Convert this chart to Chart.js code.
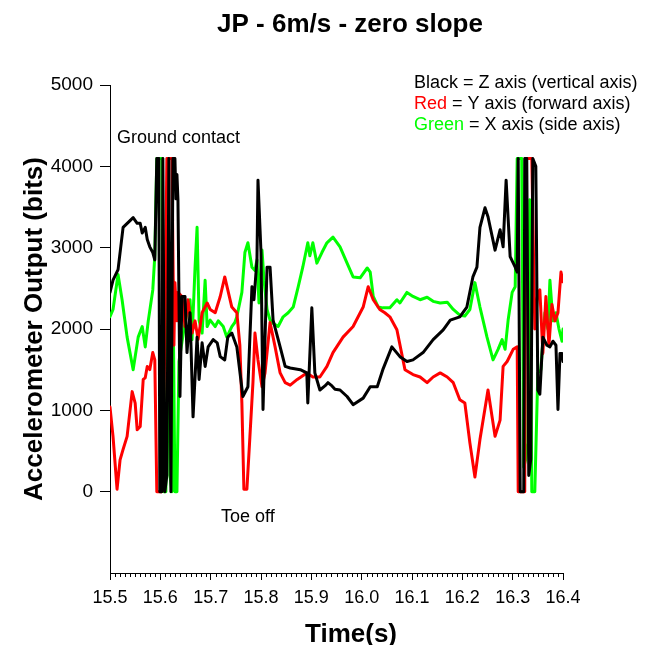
<!DOCTYPE html>
<html>
<head>
<meta charset="utf-8">
<script src="https://cdn.jsdelivr.net/npm/chart.js@4/dist/chart.umd.min.js"></script>
<style>
  html, body { margin: 0; padding: 0; background: #fff; }
  #wrap { width: 646px; height: 645px; }
</style>
</head>
<body>
<div id="wrap"><canvas id="chart" width="646" height="645"></canvas></div>
<script>
// Z axis (black)
const zTime = [15.500,15.506,15.516,15.526,15.546,15.554,15.560,15.564,15.570,15.574,
  15.579,15.585,15.589,15.593,15.597,15.599,15.603,15.605,15.609,15.613,
  15.617,15.621,15.625,15.629,15.631,15.633,15.635,15.639,15.643,15.649,
  15.653,15.659,15.665,15.673,15.677,15.683,15.689,15.695,15.705,15.713,
  15.719,15.728,15.734,15.742,15.752,15.764,15.774,15.782,15.786,15.792,
  15.794,15.800,15.804,15.812,15.818,15.824,15.838,15.848,15.858,15.878,
  15.891,15.893,15.901,15.907,15.917,15.927,15.933,15.941,15.947,15.957,
  15.971,15.983,16.003,16.017,16.031,16.042,16.060,16.076,16.090,16.102,
  16.122,16.142,16.162,16.176,16.195,16.209,16.221,16.229,16.235,16.245,
  16.251,16.265,16.275,16.281,16.287,16.295,16.305,16.309,16.311,16.315,
  16.322,16.324,16.328,16.332,16.336,16.340,16.346,16.350,16.354,16.360,
  16.368,16.374,16.380,16.386,16.390,16.394,16.398,16.400];
const zValues = [2450,2600,2730,3250,3370,3300,3300,3180,3250,3100,
  3010,2940,2850,4095,4095,0,0,4095,0,200,
  4095,0,4095,4095,3600,3900,3590,1170,2400,2400,
  1710,2200,920,1900,1380,1830,1540,1780,1870,1830,
  1660,1620,1900,1950,1780,1170,1290,2520,2360,2850,
  3830,2940,1010,2760,2760,2110,1780,1540,1520,1500,
  1460,1090,2260,1460,1250,1300,1340,1300,1260,1250,
  1170,1070,1150,1290,1290,1500,1780,1660,1600,1620,
  1710,1870,1990,2110,2150,2270,2640,2760,3250,3490,
  3380,2970,3220,3010,3830,2890,2760,2700,4095,0,
  0,4095,4095,200,400,4095,4000,1250,1200,1900,
  1800,1780,1850,1800,1010,1700,1700,1600];

// Y axis (red)
const yTime = [15.500,15.506,15.514,15.520,15.526,15.534,15.544,15.550,15.554,15.560,
  15.566,15.570,15.574,15.579,15.585,15.589,15.593,15.603,15.609,15.613,
  15.623,15.627,15.629,15.633,15.635,15.643,15.649,15.655,15.663,15.669,
  15.675,15.683,15.693,15.699,15.709,15.719,15.728,15.734,15.742,15.752,
  15.758,15.762,15.766,15.772,15.778,15.784,15.788,15.794,15.802,15.808,
  15.818,15.828,15.838,15.848,15.858,15.872,15.891,15.903,15.917,15.931,
  15.943,15.963,15.983,16.003,16.013,16.023,16.036,16.046,16.056,16.070,
  16.086,16.102,16.116,16.130,16.142,16.156,16.170,16.182,16.195,16.205,
  16.215,16.225,16.235,16.251,16.265,16.275,16.281,16.289,16.301,16.309,
  16.311,16.324,16.326,16.338,16.344,16.350,16.354,16.360,16.366,16.372,
  16.378,16.384,16.390,16.396,16.400];
const yValues = [1040,680,30,390,520,680,1230,1090,760,800,
  1380,1400,1540,1500,1710,1620,0,0,1800,4095,
  4095,1800,2570,2100,2450,2400,2030,2360,1950,2100,
  1870,2200,2320,2240,2200,2400,2640,2480,2270,2200,
  1800,1090,30,30,680,1340,1950,1620,1290,1460,
  2080,1780,1460,1340,1310,1380,1460,1410,1410,1540,
  1710,1900,2030,2270,2520,2360,2240,2200,2150,1990,
  1500,1440,1410,1340,1410,1460,1410,1340,1130,1090,
  600,180,640,1250,680,880,1540,1600,1750,1780,
  0,0,4095,4095,2000,2450,2480,1700,2400,1800,
  2300,2100,2200,2700,2580];

// X axis (green)
const xTime = [15.500,15.506,15.516,15.524,15.534,15.546,15.556,15.564,15.570,15.576,
  15.585,15.589,15.593,15.603,15.607,15.611,15.615,15.619,15.623,15.625,
  15.629,15.633,15.637,15.643,15.649,15.659,15.663,15.669,15.673,15.677,
  15.683,15.689,15.693,15.699,15.709,15.715,15.725,15.732,15.742,15.748,
  15.752,15.762,15.768,15.774,15.782,15.788,15.792,15.796,15.802,15.806,
  15.812,15.818,15.824,15.834,15.844,15.854,15.864,15.874,15.883,15.893,
  15.897,15.903,15.911,15.921,15.931,15.943,15.957,15.971,15.983,15.997,
  16.011,16.017,16.023,16.033,16.042,16.056,16.070,16.076,16.090,16.102,
  16.116,16.130,16.142,16.156,16.170,16.182,16.195,16.205,16.215,16.225,
  16.235,16.249,16.261,16.271,16.279,16.285,16.291,16.299,16.305,16.309,
  16.318,16.322,16.326,16.330,16.334,16.338,16.344,16.350,16.356,16.364,
  16.370,16.374,16.380,16.386,16.392,16.398,16.400];
const xValues = [2150,2240,2670,2360,1900,1500,1900,2030,1780,2100,
  2480,2900,4095,4095,0,0,2450,200,0,2600,
  0,0,1600,1840,2080,2360,1870,2760,3250,2110,
  1950,2600,2030,2110,2030,2100,2030,1900,2030,2080,
  2150,2450,2940,3060,2760,2720,2850,2320,2970,2600,
  2240,2110,2070,2030,2150,2200,2270,2520,2760,3060,
  2900,3060,2810,2940,3060,3130,3010,2810,2640,2630,
  2750,2700,2400,2270,2260,2260,2360,2320,2450,2400,
  2360,2390,2340,2320,2330,2240,2170,2160,2240,2570,
  2270,1900,1620,1750,1870,1750,2110,2450,2520,4095,
  4095,300,400,600,3590,0,0,1460,1500,2200,
  2000,2600,2100,2200,2000,1850,2000];

const timeTicks = [15.5, 15.6, 15.7, 15.8, 15.9, 16.0, 16.1, 16.2, 16.3, 16.4];
const outputTicks = [0, 1000, 2000, 3000, 4000, 5000];

const FONT = "'Liberation Sans', Arial, sans-serif";

function points(times, vals) {
  return times.map((t, i) => ({ x: t, y: vals[i] }));
}

function drawParts(ctx, parts, x, y) {
  parts.forEach(([text, color]) => {
    ctx.fillStyle = color;
    ctx.fillText(text, x, y);
    x += ctx.measureText(text).width;
  });
}

const textPlugin = {
  id: "texts",
  afterDraw(c) {
    const ctx = c.ctx;
    const xs = c.scales.x;
    ctx.save();

    // minor ticks every 0.01 s
    ctx.strokeStyle = "#000";
    ctx.lineWidth = 1;
    ctx.beginPath();
    for (let i = 1; i < 90; i++) {
      if (i % 10 === 0) continue;
      const px = Math.round(xs.getPixelForValue(15.5 + i / 100)) + 0.5;
      ctx.moveTo(px, xs.top);
      ctx.lineTo(px, xs.top + 4);
    }
    ctx.stroke();

    ctx.textBaseline = "alphabetic";
    ctx.fillStyle = "#000";

    ctx.font = "bold 26px " + FONT;
    ctx.textAlign = "center";
    ctx.fillText("JP - 6m/s - zero slope", 350, 32);
    ctx.fillText("Time(s)", 351, 642);

    ctx.save();
    ctx.translate(42, 329);
    ctx.rotate(-Math.PI / 2);
    ctx.fillText("Accelerometer Output (bits)", 0, 0);
    ctx.restore();

    ctx.font = "18px " + FONT;
    ctx.textAlign = "left";
    drawParts(ctx, [["Black", "#000"], [" = Z axis (vertical axis)", "#000"]], 414, 88);
    drawParts(ctx, [["Red", "#ff0000"], [" = Y axis (forward axis)", "#000"]], 414, 109);
    drawParts(ctx, [["Green", "#00ff00"], [" = X axis (side axis)", "#000"]], 414, 130);

    ctx.fillStyle = "#000";
    ctx.fillText("Ground contact", 117, 143);
    ctx.fillText("Toe off", 221, 522);

    ctx.restore();
  }
};

new Chart(document.getElementById("chart"), {
  type: "line",
  data: {
    datasets: [
      { label: "Z", data: points(zTime, zValues), borderColor: "#000000" },
      { label: "Y", data: points(yTime, yValues), borderColor: "#ff0000" },
      { label: "X", data: points(xTime, xValues), borderColor: "#00ff00" }
    ]
  },
  options: {
    responsive: false,
    animation: false,
    events: [],
    layout: { padding: { top: 85, right: 83, bottom: 0, left: 0 } },
    elements: {
      line: { borderWidth: 3, tension: 0, borderJoinStyle: "round", borderCapStyle: "round" },
      point: { radius: 0 }
    },
    plugins: { legend: { display: false }, tooltip: { enabled: false } },
    scales: {
      x: {
        type: "linear",
        min: 15.5,
        max: 16.4,
        afterBuildTicks: s => { s.ticks = timeTicks.map(v => ({ value: v })); },
        afterFit: s => { s.height = 72; },
        grid: { drawOnChartArea: false, tickLength: 7, color: "#000", tickColor: "#000" },
        border: { color: "#000", width: 1 },
        ticks: {
          color: "#000", padding: 7, maxRotation: 0, autoSkip: false,
          font: { family: FONT, size: 18 },
          callback: v => v.toFixed(1)
        }
      },
      y: {
        type: "linear",
        min: -1000,
        max: 5000,
        afterBuildTicks: s => { s.ticks = outputTicks.map(v => ({ value: v })); },
        afterFit: s => { s.width = 110; },
        grid: { drawOnChartArea: false, tickLength: 10, color: "#000", tickColor: "#000" },
        border: { color: "#000", width: 1 },
        ticks: {
          color: "#000", padding: 7,
          font: { family: FONT, size: 19 },
          callback: v => String(v)
        }
      }
    }
  },
  plugins: [textPlugin]
});
</script>
</body>
</html>
